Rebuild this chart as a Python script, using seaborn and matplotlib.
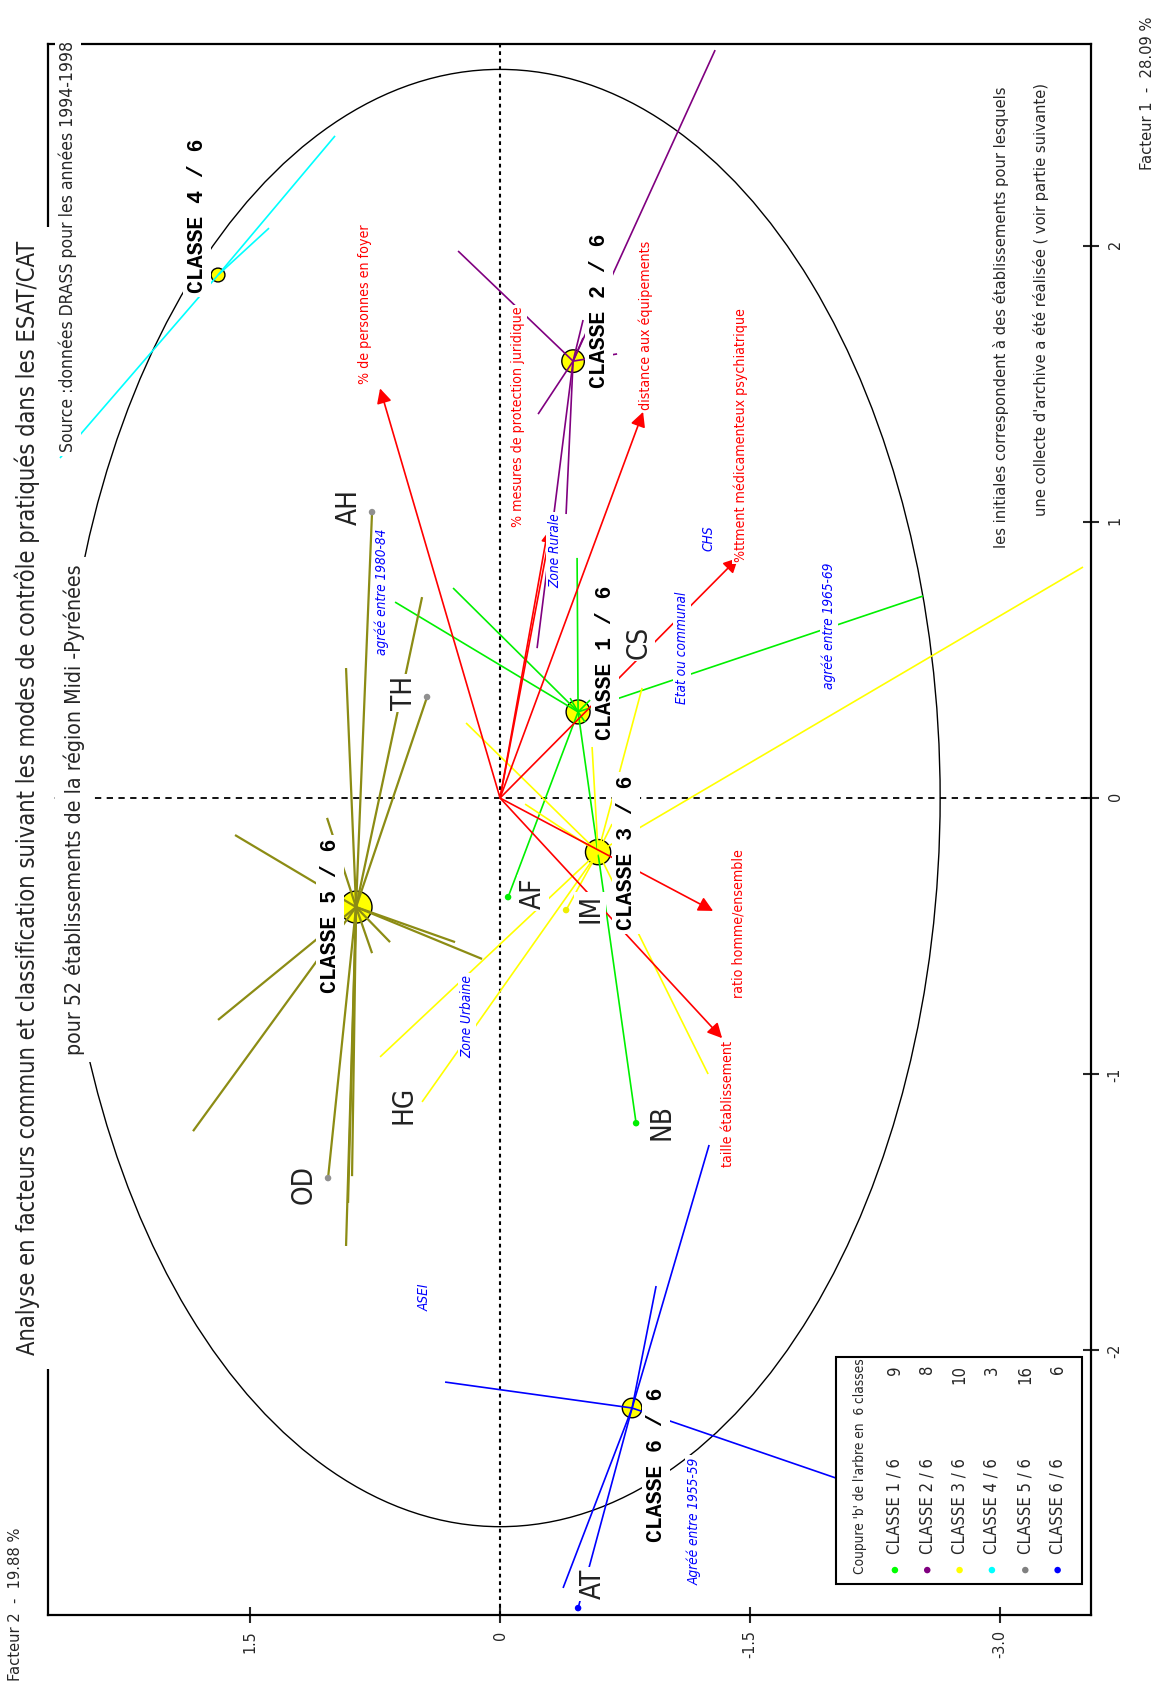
import matplotlib
matplotlib.use("Agg")
import matplotlib.pyplot as plt
from matplotlib import font_manager as fm
from matplotlib.patches import Ellipse, Rectangle
import seaborn as sns

# ---------------------------------------------------------------- data
# Plan factoriel : Facteur 1 (28.09 %) et Facteur 2 (19.88 %)
class_names = ["CLASSE 1 / 6", "CLASSE 2 / 6", "CLASSE 3 / 6",
               "CLASSE 4 / 6", "CLASSE 5 / 6", "CLASSE 6 / 6"]
class_counts = [9, 8, 10, 3, 16, 6]
class_f1 = [0.312, 1.583, -0.196, 1.895, -0.395, -2.210]
class_f2 = [-0.468, -0.438, -0.588, 1.692, 0.864, -0.792]
class_dot_colors = ["#00ff00", "#800080", "#ffff00", "#00ffff", "#808080", "#0000ff"]
class_line_colors = ["#00f000", "#800080", "#ffff00", "#00ffff", "#8c8c14", "#0000ff"]
class_label_f1 = [0.489, 1.764, -0.199, 2.109, -0.428, -2.417]
class_label_f2 = [-0.630, -0.594, -0.756, 1.818, 1.020, -0.936]

# établissements rattachés à chaque classe (Facteur 1, Facteur 2)
c1_f1 = [0.870, 0.710, 0.761, 0.732, -1.178, -0.359, 0.355, 0.362, 0.275]
c1_f2 = [-0.462, 0.630, 0.282, -2.538, -0.816, -0.048, -0.540, -0.420, -0.510]
c2_f1 = [2.710, 1.982, 1.391, 1.029, 0.543, 1.667, 1.732, 1.609]
c2_f2 = [-1.290, 0.252, -0.228, -0.396, -0.222, -0.498, -0.498, -0.702]
c3_f1 = [0.837, 0.272, -0.938, -1.101, -0.406, -1.000, 0.399, 0.185, -0.022, -0.094]
c3_f2 = [-3.497, 0.204, 0.720, 0.468, -0.396, -1.248, -0.852, -0.552, -0.150, -0.672]
c4_f1 = [1.232, 2.399, 2.065]
c4_f2 = [2.640, 0.990, 1.386]
c5_f1 = [1.036, 0.471, 0.366, 0.728, -0.072, -0.134, -0.522, -0.583,
         -0.522, -0.562, -0.804, -1.207, -1.377, -1.370, -1.623, -1.467]
c5_f2 = [0.768, 0.924, 0.438, 0.468, 1.038, 1.590, 0.270, 0.108,
         0.660, 0.768, 1.692, 1.842, 1.032, 0.888, 0.924, 0.912]
c6_f1 = [-1.257, -1.768, -2.116, -2.862, -2.935, -2.464]
c6_f2 = [-1.254, -0.936, 0.330, -0.378, -0.468, -2.016]

# variables actives (flèches rouges depuis l'origine)
var_names = ["% de personnes en foyer", "% mesures de protection juridique",
             "distance aux équipements", "%ttment médicamenteux psychiatrique",
             "ratio homme/ensemble", "taille établissement"]
var_tip_f1 = [1.484, 0.978, 1.399, 0.870, -0.409, -0.870]
var_tip_f2 = [0.720, -0.306, -0.858, -1.428, -1.278, -1.332]
var_label_f1 = [1.790, 1.380, 1.714, 1.315, -0.453, -1.109]
var_label_f2 = [0.810, -0.108, -0.876, -1.446, -1.428, -1.368]
extra_red_f1 = [0.0, 0.935]
extra_red_f2 = [0.0, -0.276]

# modalités illustratives
sup_names = ["agréé entre 1980-84", "Zone Rurale", "CHS", "Etat ou communal",
             "agréé entre 1965-69", "Zone Urbaine", "ASEI", "Agréé entre 1955-59"]
sup_f1 = [0.746, 0.895, 0.942, 0.543, 0.623, -0.790, -1.808, -2.620]
sup_f2 = [0.708, -0.330, -1.248, -1.092, -1.974, 0.198, 0.450, -1.164]

# établissements enquêtés (initiales)
init_names = ["AH", "TH", "CS", "AF", "IM", "HG", "OD", "NB", "AT"]
init_f1 = [1.054, 0.380, 0.565, -0.344, -0.399, -1.112, -1.402, -1.174, -2.848]
init_f2 = [0.906, 0.576, -0.834, -0.198, -0.540, 0.582, 1.176, -0.966, -0.558]
dot_f1 = [1.036, 0.366, -0.359, -0.406, -1.377, -1.178, -2.935]
dot_f2 = [0.768, 0.438, -0.048, -0.396, 1.032, -0.816, -0.468]
dot_colors = ["#909090", "#909090", "#00ee00", "#eeee00", "#909090", "#00ee00", "#0000ff"]

circle_radius = 2.64
f1_ticks = [-2, -1, 0, 1, 2]
f2_ticks = [1.5, 0, -1.5, -3.0]
f2_ticklabels = ["1.5", "0", "-1.5", "-3.0"]

# ---------------------------------------------------------------- style
sns.set_theme(style="white")
avail = {f.name for f in fm.fontManager.ttflist}
if "Liberation Sans Narrow" in avail:
    NARROW = dict(family="Liberation Sans Narrow")
else:
    NARROW = dict(family="DejaVu Sans", stretch="condensed")
MONO = dict(family="Liberation Mono", weight="bold")
plt.rcParams["font.family"] = [NARROW["family"], "DejaVu Sans"]

fig = plt.figure(figsize=(11.6, 16.84), dpi=100)
fig.patch.set_facecolor("white")
ax = fig.add_axes([48 / 1160, 1 - 1615 / 1684, (1091 - 48) / 1160, (1615 - 44) / 1684])
ax.set_facecolor("white")

# axes tournés : Facteur 2 horizontal (inversé), Facteur 1 vertical
ax.set_xlim(2.712, -3.545)
ax.set_ylim(-2.960, 2.732)

ax.axhline(0, color="black", lw=1.3, ls=(0, (3.5, 3)), zorder=1)
ax.axvline(0, color="black", lw=1.5, ls=(0, (1.8, 1.8)), zorder=1)
ax.add_patch(Ellipse((0, 0), 2 * circle_radius, 2 * circle_radius, fill=False,
                     ec="black", lw=1.0, zorder=1.2))

# pastilles des centres de classes (surface proportionnelle à l'effectif)
sns.scatterplot(x=class_f2, y=class_f1, s=[33 * n for n in class_counts],
                color="#ffff00", edgecolor="black", linewidth=1.0,
                legend=False, ax=ax, zorder=1.5)

# étoiles : centre de classe -> établissements
members = [(c1_f1, c1_f2), (c2_f1, c2_f2), (c3_f1, c3_f2),
           (c4_f1, c4_f2), (c5_f1, c5_f2), (c6_f1, c6_f2)]
for k, (mf1, mf2) in enumerate(members):
    lw = 1.6 if k == 4 else 1.2
    for a, b in zip(mf1, mf2):
        ax.plot([class_f2[k], b], [class_f1[k], a], color=class_line_colors[k],
                lw=lw, zorder=2, solid_capstyle="butt")

# flèches des variables actives
for tf1, tf2 in zip(var_tip_f1, var_tip_f2):
    ax.annotate("", xy=(tf2, tf1), xytext=(0, 0),
                arrowprops=dict(arrowstyle="-|>,head_length=0.55,head_width=0.28",
                                color="red", lw=1.2, shrinkA=0, shrinkB=0,
                                mutation_scale=16), zorder=2.5)
ax.plot(extra_red_f2, extra_red_f1, color="red", lw=1.2, zorder=2.5)

# points des établissements nommés
sns.scatterplot(x=dot_f2, y=dot_f1, color=dot_colors, s=22, edgecolor="none",
                legend=False, ax=ax, zorder=3)


def vtext(x, y, s, size, color="black", style="normal", font=NARROW, pad=1.5):
    ax.text(x, y, s, rotation=90, rotation_mode="anchor", ha="center",
            va="center", fontsize=size, color=color, style=style, zorder=4,
            bbox=dict(fc="white", ec="none", pad=pad), **font)


for name, a, b in zip(class_names, class_label_f1, class_label_f2):
    vtext(b, a, name, 15.5, font=MONO, pad=2.5)
for name, a, b in zip(var_names, var_label_f1, var_label_f2):
    vtext(b, a, name, 10.2, color="red")
for name, a, b in zip(sup_names, sup_f1, sup_f2):
    vtext(b, a, name, 9.8, color="#0000ff", style="italic")
for name, a, b in zip(init_names, init_f1, init_f2):
    vtext(b, a, name, 20, color="#222222")

# ---------------------------------------------------------------- légende
ax.add_patch(Rectangle((0.7555, 0.0197), 0.2359, 0.1445, transform=ax.transAxes,
                       fc="white", ec="black", lw=1.5, zorder=5))
ax.text(0.7785, 0.0261, "Coupure 'b' de l'arbre en  6 classes", transform=ax.transAxes,
        rotation=90, rotation_mode="anchor", ha="left", va="center",
        fontsize=9.8, zorder=6, **NARROW)
legend_x = [0.812, 0.843, 0.874, 0.905, 0.937, 0.968]
for k, xk in enumerate(legend_x):
    ax.scatter([xk], [0.0286], s=22, color=class_dot_colors[k], transform=ax.transAxes,
               zorder=6, edgecolor="none")
    ax.text(xk, 0.0391, class_names[k], transform=ax.transAxes, rotation=90,
            rotation_mode="anchor", ha="left", va="center", fontsize=12,
            zorder=6, **NARROW)
    ax.text(xk, 0.1591, str(class_counts[k]), transform=ax.transAxes, rotation=90,
            rotation_mode="anchor", ha="right", va="center", fontsize=12,
            zorder=6, **NARROW)

# ---------------------------------------------------------------- axes
for sp in ax.spines.values():
    sp.set_visible(True)
    sp.set_color("black")
    sp.set_linewidth(1.6)
ax.set_xticks(f2_ticks)
ax.set_xticklabels(f2_ticklabels)
ax.yaxis.tick_right()
ax.set_yticks(f1_ticks)
ax.set_yticklabels([str(t) for t in f1_ticks])
ax.tick_params(axis="x", direction="inout", length=12, width=1.5, labelsize=11.5,
               labelrotation=90, pad=5, bottom=True, top=False)
ax.tick_params(axis="y", direction="inout", length=12, width=1.5, labelsize=11.5,
               labelrotation=90, pad=6, right=True, left=False)
for lbl in ax.get_xticklabels() + ax.get_yticklabels():
    lbl.set_fontfamily(NARROW["family"])
    if "stretch" in NARROW:
        lbl.set_fontstretch(NARROW["stretch"])
ax.grid(False)


# ---------------------------------------------------------------- titres
def ftext(x, y, s, size, pad=1.5, **kw):
    fig.text(x, y, s, rotation=90, rotation_mode="anchor", ha="left", va="center",
             fontsize=size, zorder=5, bbox=dict(fc="white", ec="none", pad=pad),
             **NARROW, **kw)


ftext(27 / 1160, 1 - 1355 / 1684,
      "Analyse en facteurs commun et classification suivant les modes de contrôle "
      "pratiqués dans les ESAT/CAT", 17, pad=10)
ftext(74 / 1160, 1 - 1055 / 1684,
      "pour 52 établissements de la région Midi -Pyrénées", 15.3, pad=5)
ftext(68 / 1160, 1 - 452 / 1684,
      "Source :données DRASS pour les années 1994-1998", 12.6, pad=3)
ftext(1001 / 1160, 1 - 548 / 1684,
      "les initiales correspondent à des établissements pour lesquels", 11.8)
ftext(1041 / 1160, 1 - 516 / 1684,
      "une collecte d'archive a été réalisée ( voir partie suivante)", 11.8)
ftext(1147 / 1160, 1 - 170 / 1684, "Facteur 1  -  28.09 %", 11.8)
ftext(16 / 1160, 1 - 1681 / 1684, "Facteur 2  -  19.88 %", 11.8)

fig.savefig("out.png", dpi=100, facecolor="white")
